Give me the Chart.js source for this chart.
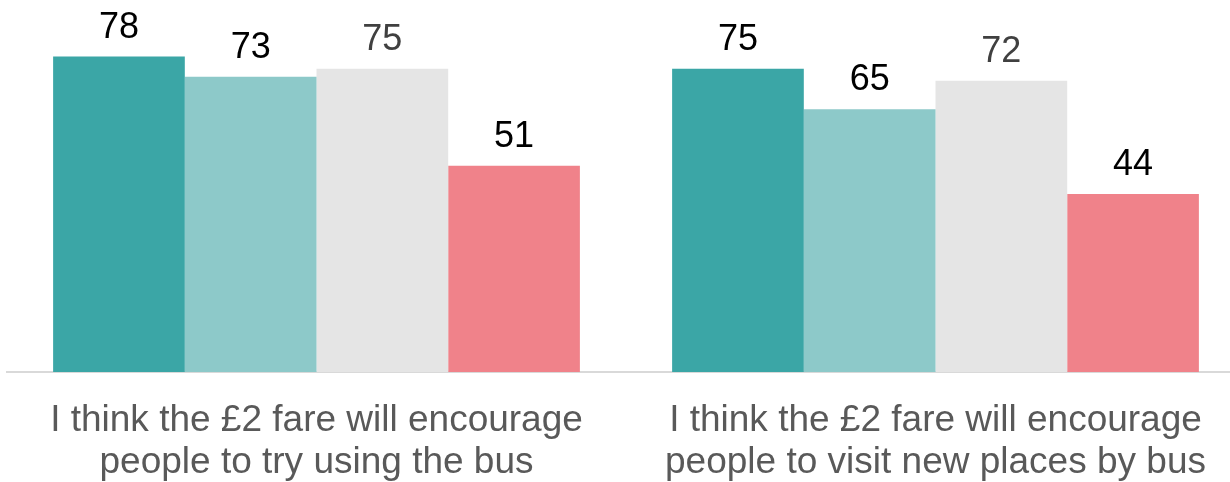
<!DOCTYPE html>
<html>
<head>
<meta charset="utf-8">
<script src="https://cdn.jsdelivr.net/npm/chart.js@4"></script>
<style>
  html, body { margin: 0; padding: 0; background: #fff; overflow: hidden; }
  #wrap { width: 1250px; height: 482px; position: relative; }
</style>
</head>
<body>
<div id="wrap"><canvas id="barChart"></canvas></div>
<script>
// Datos
const categories = [
  ['I think the £2 fare will encourage', 'people to try using the bus'],
  ['I think the £2 fare will encourage', 'people to visit new places by bus']
];
const series1 = [78, 75];
const series2 = [73, 65];
const series3 = [75, 72];
const series4 = [51, 44];

const barColors = ['#3BA6A6', '#8DC9C9', '#E5E5E5', '#F0828A'];
const labelColors = ['#000000', '#000000', '#404040', '#000000'];

// Etiquetas de valor encima de cada barra
const valueLabels = {
  id: 'valueLabels',
  afterDatasetsDraw(chart) {
    const ctx = chart.ctx;
    ctx.save();
    ctx.font = '36px "Liberation Sans", Arial, sans-serif';
    ctx.textAlign = 'center';
    ctx.textBaseline = 'alphabetic';
    chart.data.datasets.forEach((ds, i) => {
      chart.getDatasetMeta(i).data.forEach((bar, j) => {
        ctx.fillStyle = labelColors[i];
        ctx.fillText(ds.data[j], bar.x, bar.y - 19);
      });
    });
    ctx.restore();
  }
};

document.addEventListener('DOMContentLoaded', () => {
  const ctx = document.getElementById('barChart');
  new Chart(ctx, {
    type: 'bar',
    data: {
      labels: categories,
      datasets: [series1, series2, series3, series4].map((d, i) => ({
        label: 'S' + (i + 1),
        data: d,
        backgroundColor: barColors[i],
        borderWidth: 0,
        barPercentage: 1,
        categoryPercentage: 0.851
      }))
    },
    options: {
      responsive: true,
      maintainAspectRatio: false,
      animation: false,
      layout: { padding: { left: 7, right: 5, top: 0, bottom: 0 } },
      plugins: { legend: { display: false }, tooltip: { enabled: false } },
      scales: {
        x: {
          grid: { display: false },
          border: { display: true, color: '#D9D9D9', width: 2 },
          ticks: {
            color: '#595959',
            font: { family: '"Liberation Sans", Arial, sans-serif', size: 37, lineHeight: 1.14 },
            padding: 20,
            maxRotation: 0,
            autoSkip: false
          },
          afterFit(scale) { scale.height = 110; }
        },
        y: {
          display: false,
          min: 0,
          max: 92
        }
      }
    },
    plugins: [valueLabels]
  });
});
</script>
</body>
</html>
